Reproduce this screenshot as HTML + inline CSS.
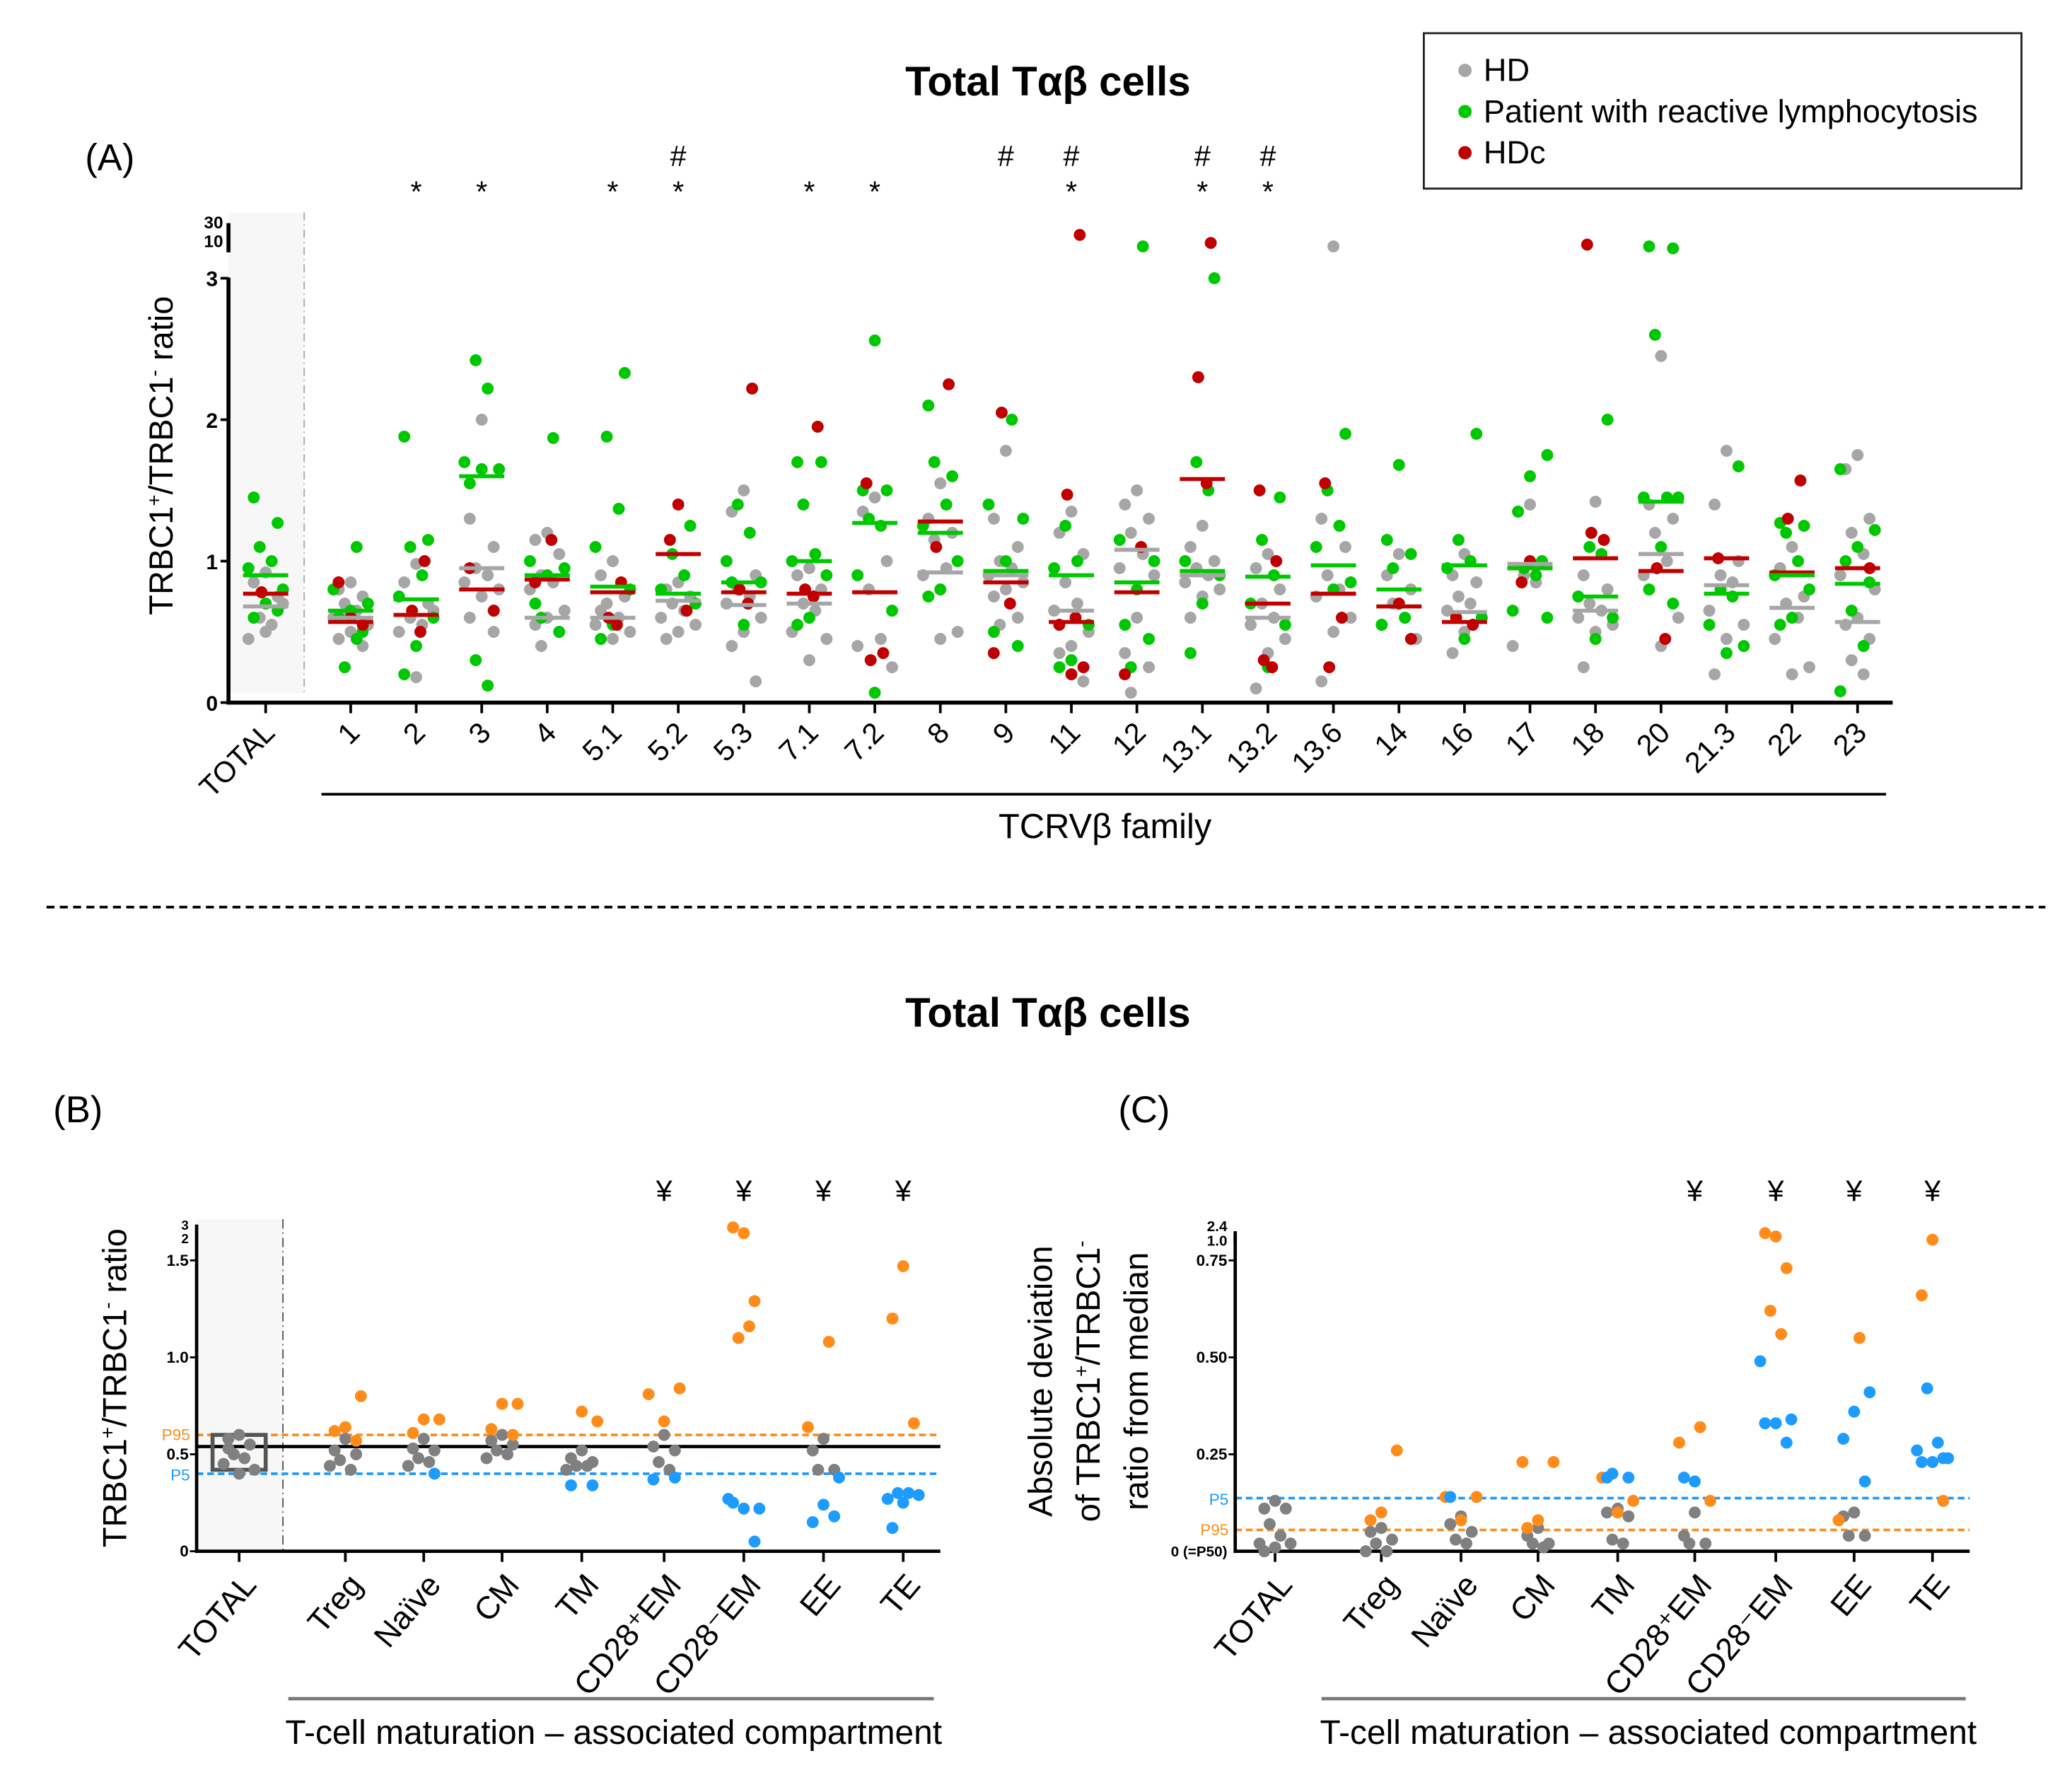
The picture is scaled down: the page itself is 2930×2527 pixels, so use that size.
<!DOCTYPE html>
<html><head><meta charset="utf-8"><style>
html,body{margin:0;padding:0;background:#fff;}
svg{display:block;font-family:"Liberation Sans",sans-serif;}
</style></head><body>
<svg id="fig" width="2930" height="2527" viewBox="0 0 1560 1345.5" xmlns="http://www.w3.org/2000/svg">
<g id="pa"></g>
<g id="pb"></g>
<g id="pc"></g>
</svg>
<script>
// ---------- Panel A data ----------
const catsA = ["TOTAL","1","2","3","4","5.1","5.2","5.3","7.1","7.2","8","9","11","12","13.1","13.2","13.6","14","16","17","18","20","21.3","22","23"];
const grayA = [
 [0.92,0.85,0.75,0.6,0.55,0.45,0.7,0.5],
 [0.85,0.8,0.75,0.7,0.65,0.6,0.55,0.5,0.45,0.4,0.6],
 [0.98,0.85,0.7,0.6,0.55,0.5,0.65,0.18],
 [2.0,1.3,1.1,0.95,0.9,0.85,0.8,0.75,0.6,0.5],
 [1.2,1.15,1.05,0.9,0.85,0.8,0.65,0.6,0.55,0.5,0.4],
 [1.0,0.9,0.75,0.7,0.6,0.55,0.5,0.45,0.65],
 [0.85,0.8,0.75,0.7,0.65,0.6,0.55,0.5,0.45],
 [1.5,1.35,0.9,0.8,0.75,0.7,0.6,0.5,0.4,0.15],
 [0.95,0.9,0.8,0.7,0.65,0.5,0.45,0.3],
 [1.45,1.35,1.0,0.8,0.45,0.4,0.25],
 [1.55,1.3,1.2,1.15,0.95,0.9,0.5,0.45],
 [1.78,1.3,1.1,1.0,0.95,0.9,0.85,0.8,0.75,0.6,0.55],
 [1.35,1.2,1.05,0.85,0.7,0.65,0.5,0.4,0.35,0.15],
 [1.5,1.4,1.3,1.2,1.05,0.95,0.9,0.6,0.35,0.25,0.07],
 [1.25,1.1,1.0,0.95,0.9,0.85,0.8,0.75,0.6],
 [1.05,0.95,0.8,0.7,0.6,0.55,0.45,0.35,0.1],
 [12,1.3,1.1,0.9,0.8,0.75,0.6,0.5,0.15],
 [1.05,0.9,0.8,0.7,0.6,0.55,0.45],
 [1.05,0.9,0.85,0.75,0.7,0.65,0.6,0.5,0.35],
 [1.4,1.35,1.0,0.9,0.85,0.4],
 [1.42,0.9,0.8,0.7,0.65,0.6,0.55,0.5,0.25],
 [2.45,1.4,1.3,1.2,1.0,0.9,0.6,0.4],
 [1.78,1.4,1.0,0.9,0.85,0.65,0.55,0.45,0.2],
 [1.1,0.95,0.75,0.7,0.6,0.45,0.25,0.2],
 [1.75,1.65,1.3,1.2,1.05,0.9,0.8,0.6,0.55,0.45,0.3,0.2]
];
const greenA = [
 [1.45,1.27,1.1,1.0,0.95,0.8,0.7,0.6,0.65],
 [1.1,0.8,0.7,0.65,0.6,0.5,0.25,0.45],
 [1.88,1.15,1.1,0.9,0.75,0.6,0.4,0.2],
 [2.42,2.22,1.7,1.65,1.65,1.55,0.65,0.3,0.12],
 [1.87,1.0,0.95,0.9,0.7,0.5,0.6],
 [2.33,1.88,1.37,1.1,0.8,0.55,0.45],
 [1.25,1.05,0.9,0.8,0.7],
 [1.4,1.2,1.0,0.85,0.55,0.85],
 [1.7,1.7,1.4,1.05,1.0,0.9,0.6,0.55],
 [2.56,1.5,1.5,1.3,1.25,0.9,0.65,0.07],
 [2.1,1.6,1.7,1.4,1.25,1.0,0.8,0.75],
 [2.0,1.4,1.3,1.0,0.5,0.4],
 [1.25,1.0,0.95,0.55,0.3,0.25],
 [12,1.15,1.0,0.8,0.55,0.45,0.25],
 [3.0,1.7,1.5,1.0,0.9,0.7,0.35],
 [1.45,1.15,0.9,0.7,0.55,0.25],
 [1.9,1.5,1.25,1.1,0.85,0.8],
 [1.68,1.15,1.05,0.95,0.6,0.55],
 [1.9,1.15,1.0,0.95,0.6,0.45],
 [1.75,1.6,1.35,1.0,0.95,0.9,0.65,0.6],
 [2.0,1.1,1.05,0.75,0.6,0.45],
 [12,11,2.6,1.45,1.45,1.45,1.1,0.8,0.7],
 [1.67,0.8,0.75,0.55,0.4,0.35],
 [1.27,1.25,1.2,1.0,0.9,0.8,0.6,0.55],
 [1.65,1.22,1.1,1.0,0.85,0.65,0.4,0.08]
];
const redA = [
 [0.78],[0.85,0.55,0.6],[1.0,0.65,0.5],[0.95,0.65],[1.15,0.85],[0.85,0.6,0.55],[1.4,1.15,0.65],
 [2.22,0.8,0.7],[1.95,0.8,0.75],[1.55,0.35,0.3],[2.25,1.1],[2.05,0.7,0.35],[20,1.47,0.6,0.55,0.25,0.2],
 [1.1,0.2],[14,2.3,1.55],[1.5,1.0,0.3,0.25],[1.55,0.6,0.25],[0.45,0.7],[0.6,0.55],[1.0,0.85],
 [13,1.15,1.2],[0.95,0.45],[1.02],[1.57,1.3],[0.95]
];
const medGreenA = [0.9,0.65,0.73,1.6,0.9,0.82,0.77,0.85,1.0,1.27,1.2,0.93,0.9,0.85,0.93,0.89,0.97,0.8,0.97,0.95,0.75,1.42,0.77,0.9,0.84];
const medRedA   = [0.77,0.57,0.62,0.8,0.87,0.78,1.05,0.78,0.77,0.78,1.28,0.85,0.57,0.78,1.58,0.7,0.77,0.68,0.57,0.95,1.02,0.93,1.02,0.92,0.95];
const medGrayA  = [0.68,0.6,0.62,0.95,0.6,0.6,0.72,0.69,0.7,0.78,0.92,0.9,0.65,1.08,0.9,0.6,0.77,0.68,0.64,0.98,0.65,1.05,0.83,0.67,0.57];
const starsA = ["2","3","5.1","5.2","7.1","7.2","11","13.1","13.2"];
const hashA = ["5.2","9","11","13.1","13.2"];
const ticksA = [0,1,2,3];

// ---------- Panel B data ----------
const catsB = ["TOTAL","Treg","Naïve","CM","TM","CD28⁺EM","CD28⁻EM","EE","TE"];
const grayB = [[0.6,0.58,0.55,0.5,0.48,0.45,0.42,0.4,0.53],[0.58,0.52,0.5,0.47,0.42,0.44],[0.58,0.53,0.52,0.48,0.46,0.44],[0.6,0.57,0.55,0.52,0.5,0.48],[0.52,0.48,0.46,0.44,0.44,0.42],[0.6,0.54,0.52,0.46,0.42],[],[0.58,0.52,0.42,0.42],[]];
const orangeB = [[],[0.8,0.64,0.62,0.57],[0.68,0.68,0.61],[0.76,0.76,0.63,0.6],[0.67,0.72],[0.81,0.84,0.67],[1.64,1.67,1.29,1.1,1.16],[1.08,0.64],[1.47,1.2,0.66]];
const blueB = [[],[],[0.4],[],[0.34,0.34],[0.37,0.38],[0.27,0.22,0.22,0.25,0.05],[0.38,0.24,0.15,0.18],[0.3,0.3,0.27,0.29,0.25,0.12]];
const markB = ["CD28⁺EM","CD28⁻EM","EE","TE"];
const ticksB = [0,0.5,1.0,1.5];
const refB = {median:0.54, p95:0.6, p5:0.4};

// ---------- Panel C data ----------
const catsC = catsB;
const grayC = [[0.13,0.11,0.11,0.07,0.04,0.02,0.02,0.01,0.0],[0.06,0.05,0.03,0.02,0.0,0.0],[0.09,0.07,0.05,0.03,0.02],[0.06,0.04,0.02,0.02,0.01],[0.11,0.1,0.09,0.03,0.02],[0.1,0.04,0.02,0.02],[],[0.1,0.09,0.04,0.04],[]];
const orangeC = [[],[0.26,0.1,0.08],[0.14,0.14,0.08],[0.23,0.23,0.08,0.06],[0.19,0.13,0.1],[0.32,0.28,0.13],[1.2,1.7,0.73,0.62,0.56],[0.55,0.08],[0.98,0.66,0.13]];
const blueC = [[],[],[0.14],[],[0.19,0.19,0.2],[0.18,0.19],[0.49,0.34,0.33,0.33,0.28],[0.41,0.36,0.29,0.18],[0.42,0.28,0.26,0.24,0.23,0.23,0.24]];
const ticksC = [0.25,0.5,0.75];
const refC = {p5:0.137, p95:0.055};

const NS="http://www.w3.org/2000/svg";
function mk(parent,tag,attrs,text){
  const e=document.createElementNS(NS,tag);
  for(const k in attrs) e.setAttribute(k,attrs[k]);
  if(text!==undefined) e.textContent=text;
  parent.appendChild(e); return e;
}
const jit=[0,-9,9,-4.5,4.5,-13,13,0,-9,9,-4.5,4.5,-13,13];

// ================= PANEL A =================
const A=document.getElementById('pa');
const axL=172, axR=1425, y0A=529, upA=106.5;
function yA(v){ if(v<=3) return y0A-v*upA; return 209-(Math.log10(v)-Math.log10(3))/(Math.log10(30)-Math.log10(3))*39; }
function xA(i){ return i===0?200:264+(i-1)*49.33; }

let t=mk(A,'text',{x:789,y:72,'text-anchor':'middle','font-size':31,'font-weight':'bold'},'Total Tαβ cells');


t=mk(A,'text',{x:64,y:128,'font-size':28},'(A)');



// legend
const lg=mk(A,'g',{});


mk(lg,'rect',{x:1072,y:25,width:450,height:117,fill:'#fff',stroke:'#222','stroke-width':1.5});
const legItems=[["HD","#a6a6a6",53],["Patient with reactive lymphocytosis","#00c800",84],["HDc","#c00000",115]];
legItems.forEach(it=>{
  const g=mk(lg,'g',{});
  
  
  mk(g,'circle',{cx:1103,cy:it[2],r:5,fill:it[1]});
  mk(g,'text',{x:1117,y:it[2]+8,'font-size':24},it[0]);
});

// shaded total region
let r=mk(A,'rect',{x:axL,y:160,width:57,height:362,fill:'#f7f7f7'});


mk(A,'line',{x1:229,y1:160,x2:229,y2:522,stroke:'#aaa','stroke-width':1,'stroke-dasharray':'6 3 1 3'});

// axes
let ax=mk(A,'path',{d:`M${axL} 209 V${y0A} H${axR}`,stroke:'#000','stroke-width':3,fill:'none'});


mk(A,'path',{d:`M${axL} 168 V190`,stroke:'#000','stroke-width':3,fill:'none'});
ticksA.forEach(v=>{
  mk(A,'line',{x1:axL-6,x2:axL,y1:yA(v),y2:yA(v),stroke:'#000','stroke-width':2});
  const tl=mk(A,'text',{x:axL-8,y:yA(v)+6,'text-anchor':'end','font-size':16,'font-weight':'bold'},String(v));
  
  
});
[[30,172],[10,186]].forEach(p=>{
  mk(A,'text',{x:axL-4,y:p[1],'text-anchor':'end','font-size':13,'font-weight':'bold'},String(p[0]));
});
t=mk(A,'text',{transform:'translate(130 343) rotate(-90)','text-anchor':'middle','font-size':25},'');


t.innerHTML='TRBC1<tspan dy="-9" font-size="15">+</tspan><tspan dy="9">/TRBC1</tspan><tspan dy="-9" font-size="15">-</tspan><tspan dy="9"> ratio</tspan>';

catsA.forEach((c,i)=>{
  const x=xA(i);
  mk(A,'line',{x1:x,x2:x,y1:y0A,y2:y0A+8,stroke:'#000','stroke-width':2});
  const tl=mk(A,'text',{transform:`translate(${x+8} ${y0A+24}) rotate(-45)`,'text-anchor':'end','font-size':22},c);
  
  
  const sets=[[grayA[i],'#a6a6a6','hd-point'],[greenA[i],'#00c800','patient-point'],[redA[i],'#c00000','hdc-point']];
  let k=0;
  sets.forEach(s=>{
    s[0].forEach(v=>{
      const d=mk(A,'circle',{cx:x+jit[k%jit.length]*(s[2]==='hdc-point'?0.7:1),cy:yA(v),r:4.5,fill:s[1]});
      
      
      k++;
    });
  });
  [[medGrayA[i],'#a6a6a6'],[medRedA[i],'#c00000'],[medGreenA[i],'#00c800']].forEach(m=>{
    const l=mk(A,'line',{x1:x-17,x2:x+17,y1:yA(m[0]),y2:yA(m[0]),stroke:m[1],'stroke-width':3});
    
    
  });
  if(starsA.includes(c)){ const s=mk(A,'text',{x:x,y:152,'text-anchor':'middle','font-size':22},'*');   }
  if(hashA.includes(c)){ const s=mk(A,'text',{x:x,y:125,'text-anchor':'middle','font-size':22},'#');   }
});
mk(A,'line',{x1:242,x2:1420,y1:598,y2:598,stroke:'#000','stroke-width':2});
t=mk(A,'text',{x:832,y:631,'text-anchor':'middle','font-size':26},'TCRVβ family');



// separator
let sep=mk(document.getElementById('fig'),'line',{x1:35,x2:1540,y1:683,y2:683,stroke:'#000','stroke-width':2,'stroke-dasharray':'6 4'});



// ================= PANEL B / C helper =================
function panel(G,o){
  const {axX,axR,y0,yf,xs,cats,gray,orange,blue,ticks,tickFmt}=o;
  const ax=mk(G,'path',{d:`M${axX} ${o.top} V${y0} H${axR}`,stroke:'#000','stroke-width':2.5,fill:'none'});
  
  
  ticks.forEach(v=>{
    mk(G,'line',{x1:axX-5,x2:axX,y1:yf(v),y2:yf(v),stroke:'#000','stroke-width':1.5});
    const tl=mk(G,'text',{x:axX-6,y:yf(v)+4,'text-anchor':'end','font-size':12,'font-weight':'bold'},tickFmt(v));
    
    
  });
  cats.forEach((c,i)=>{
    const x=xs[i];
    mk(G,'line',{x1:x,x2:x,y1:y0,y2:y0+8,stroke:'#000','stroke-width':2});
    const tl=mk(G,'text',{transform:`translate(${x+14} ${y0+26}) rotate(-50)`,'text-anchor':'end','font-size':24},c);
    
    
    let k=0;
    [[gray[i],'#808080','hd-point'],[orange[i],'#ff8c1a','above-p95-point'],[blue[i],'#1e9bff','below-p5-point']].forEach(s=>{
      s[0].forEach(v=>{
        const d=mk(G,'circle',{cx:x+jit[k%jit.length]*0.9,cy:yf(v),r:4.5,fill:s[1]});
        
        
        k++;
      });
    });
    if(markB.includes(c)){ const s=mk(G,'text',{x:x,y:904,'text-anchor':'middle','font-size':22},'¥');   }
  });
}

// ================= PANEL B =================
const B=document.getElementById('pb');
t=mk(B,'text',{x:789,y:773,'text-anchor':'middle','font-size':31,'font-weight':'bold'},'Total Tαβ cells');


t=mk(B,'text',{x:40,y:845,'font-size':28},'(B)');


const y0B=1168, upB=146;
function yB(v){ return y0B-v*upB; }
r=mk(B,'rect',{x:148,y:918,width:65,height:250,fill:'#f7f7f7'});


mk(B,'line',{x1:213,x2:213,y1:918,y2:1168,stroke:'#555','stroke-width':1,'stroke-dasharray':'7 3 1 3'});
const xsB=[180,260,319,378,438,500,560,620,680];
let ln=mk(B,'line',{x1:148,x2:708,y1:yB(refB.median),y2:yB(refB.median),stroke:'#000','stroke-width':2.5});


ln=mk(B,'line',{x1:148,x2:708,y1:yB(refB.p95),y2:yB(refB.p95),stroke:'#ff8c1a','stroke-width':2,'stroke-dasharray':'5 3'});


ln=mk(B,'line',{x1:148,x2:708,y1:yB(refB.p5),y2:yB(refB.p5),stroke:'#1e9bff','stroke-width':2,'stroke-dasharray':'5 3'});


mk(B,'text',{x:143,y:yB(refB.p95)+4,'text-anchor':'end','font-size':12,fill:'#ff8c1a'},'P95');
mk(B,'text',{x:143,y:yB(refB.p5)+5,'text-anchor':'end','font-size':12,fill:'#1e9bff'},'P5');
let bx=mk(B,'rect',{x:160,y:yB(0.6),width:40,height:yB(0.42)-yB(0.6),fill:'none',stroke:'#555','stroke-width':3});


panel(B,{axX:148,axR:708,top:922,y0:y0B,yf:yB,xs:xsB,cats:catsB,gray:grayB,orange:orangeB,blue:blueB,ticks:ticksB,tickFmt:v=>v===0?'0':(v===0.5?'0.5':v.toFixed(1))});
mk(B,'text',{x:142,y:926,'text-anchor':'end','font-size':10,'font-weight':'bold'},'3');
mk(B,'text',{x:142,y:936,'text-anchor':'end','font-size':10,'font-weight':'bold'},'2');
t=mk(B,'text',{transform:'translate(95 1045) rotate(-90)','text-anchor':'middle','font-size':25},'');


t.innerHTML='TRBC1<tspan dy="-9" font-size="15">+</tspan><tspan dy="9">/TRBC1</tspan><tspan dy="-9" font-size="15">-</tspan><tspan dy="9"> ratio</tspan>';
mk(B,'line',{x1:217,x2:703,y1:1279,y2:1279,stroke:'#777','stroke-width':2.5});
t=mk(B,'text',{x:462,y:1313,'text-anchor':'middle','font-size':25.5},'T-cell maturation – associated compartment');



// ================= PANEL C =================
const C=document.getElementById('pc');
t=mk(C,'text',{x:842,y:845,'font-size':28},'(C)');


const y0C=1168, upC=292;
function yC(v){ if(v<=0.75) return y0C-v*upC; if(v<=1.0) return 950-(v-0.75)/0.25*18; return 932-(v-1.0)/1.4*7; }
const xsC=[960,1040,1100,1158,1218,1276,1337,1396,1455];
ln=mk(C,'line',{x1:930,x2:1483,y1:yC(refC.p5),y2:yC(refC.p5),stroke:'#1e9bff','stroke-width':2,'stroke-dasharray':'5 3'});


ln=mk(C,'line',{x1:930,x2:1483,y1:yC(refC.p95),y2:yC(refC.p95),stroke:'#ff8c1a','stroke-width':2,'stroke-dasharray':'5 3'});


mk(C,'text',{x:925,y:yC(refC.p5)+5,'text-anchor':'end','font-size':12,fill:'#1e9bff'},'P5');
mk(C,'text',{x:925,y:yC(refC.p95)+4,'text-anchor':'end','font-size':12,fill:'#ff8c1a'},'P95');
panel(C,{axX:930,axR:1483,top:927,y0:y0C,yf:yC,xs:xsC,cats:catsC,gray:grayC,orange:orangeC,blue:blueC,ticks:ticksC,tickFmt:v=>v.toFixed(2)});
mk(C,'text',{x:924,y:1172,'text-anchor':'end','font-size':11,'font-weight':'bold'},'0 (=P50)');
mk(C,'text',{x:924,y:927,'text-anchor':'end','font-size':11,'font-weight':'bold'},'2.4');
mk(C,'text',{x:924,y:938,'text-anchor':'end','font-size':11,'font-weight':'bold'},'1.0');
mk(C,'path',{d:'M930 930 V936',stroke:'#000','stroke-width':2.5});
const tc=mk(C,'text',{transform:'translate(828 1040) rotate(-90)','text-anchor':'middle','font-size':25},'');


tc.innerHTML='<tspan x="0" dy="-36">Absolute deviation</tspan><tspan x="0" dy="36">of TRBC1</tspan><tspan dy="-9" font-size="15">+</tspan><tspan dy="9">/TRBC1</tspan><tspan dy="-9" font-size="15">-</tspan><tspan x="0" dy="45">ratio from median</tspan>';
mk(C,'line',{x1:995,x2:1480,y1:1279,y2:1279,stroke:'#777','stroke-width':2.5});
t=mk(C,'text',{x:1241,y:1313,'text-anchor':'middle','font-size':25.5},'T-cell maturation – associated compartment');


</script>
</body></html>
